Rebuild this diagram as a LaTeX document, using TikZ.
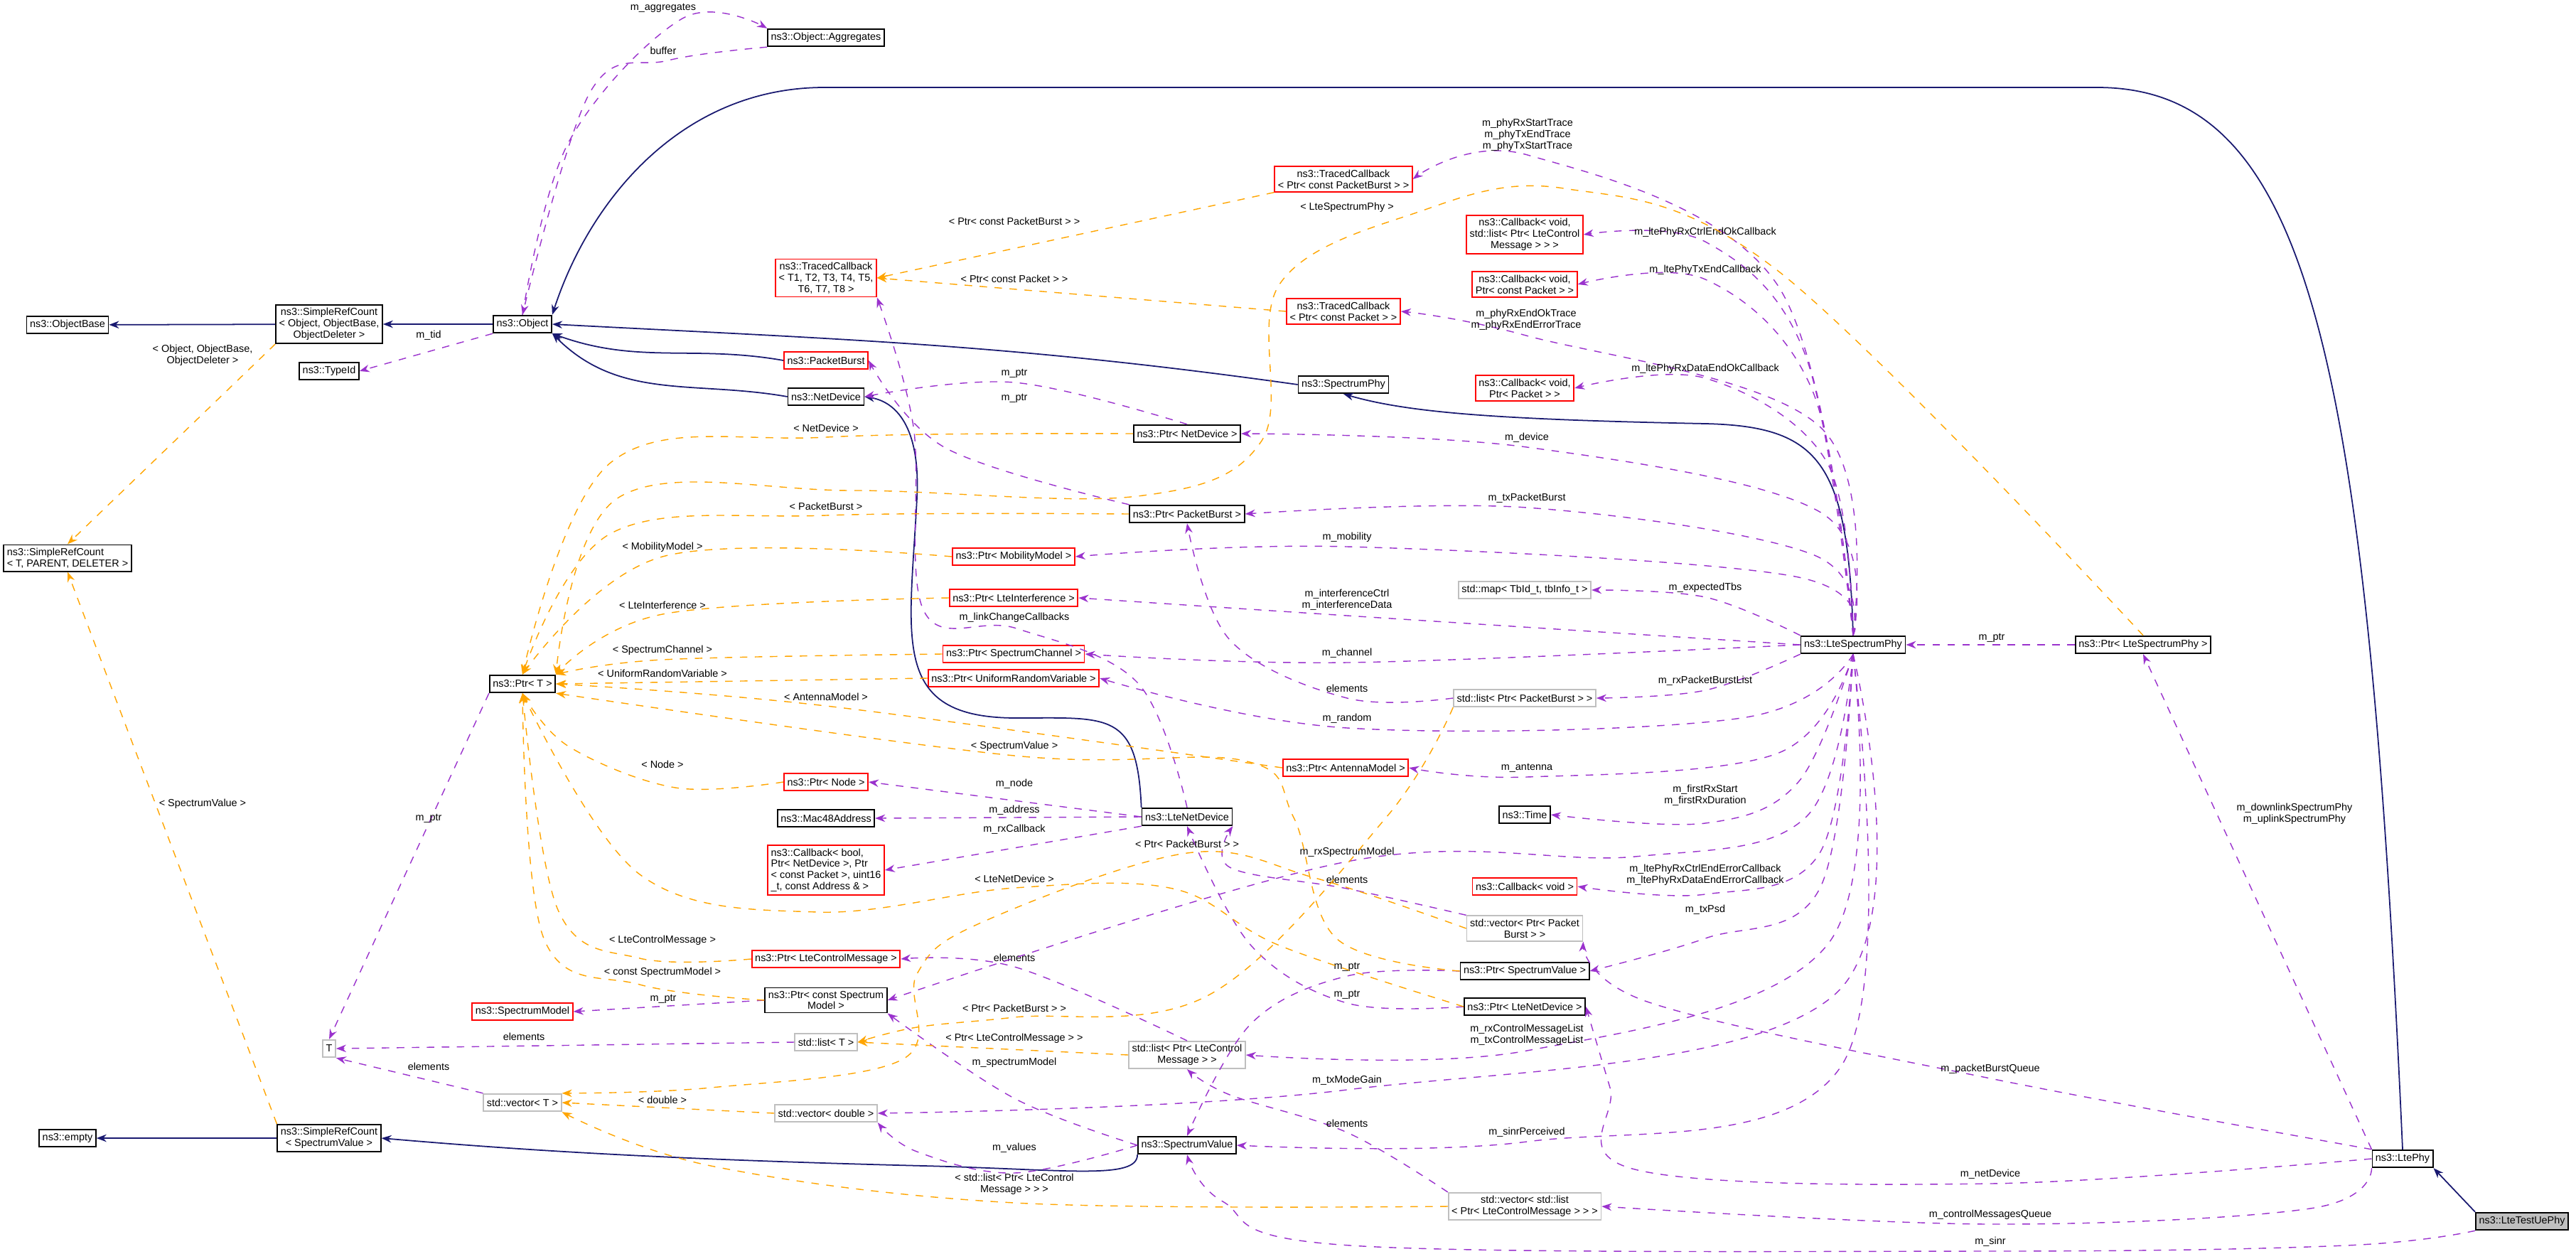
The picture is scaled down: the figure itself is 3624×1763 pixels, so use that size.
\documentclass[tikz,border=0pt]{standalone}
\usepackage{fontspec}
\setmainfont{Liberation Sans}
\usetikzlibrary{arrows.meta}
\definecolor{inhcol}{RGB}{25,25,112}
\definecolor{usecol}{RGB}{154,50,205}
\definecolor{tplcol}{RGB}{255,165,0}
\definecolor{redcol}{RGB}{255,0,0}
\definecolor{graycol}{RGB}{191,191,191}
\begin{document}
\begin{tikzpicture}[x=0.01cm,y=0.01cm]
  \tikzset{cls/.style={rectangle, draw=black, fill=white, line width=0.5pt, align=center, inner sep=1.3pt,
      minimum height=7pt, font=\fontsize{4.1}{4.5}\selectfont}}
  \tikzset{undoc/.style={cls, draw=redcol}}
  \tikzset{tpl/.style={cls, draw=graycol}}
  \tikzset{inherit/.style={draw=inhcol, line width=0.5pt, -{Stealth[length=4pt,width=3pt]}}}
  \tikzset{uses/.style={draw=usecol, dashed, line width=0.4pt, -{Stealth[length=4pt,width=3pt]}}}
  \tikzset{inst/.style={draw=tplcol, dashed, line width=0.4pt, -{Stealth[length=4pt,width=3pt]}}}
  \tikzset{lbl/.style={font=\fontsize{4.1}{4.5}\selectfont, align=center, inner sep=0.5pt, text=black}}
  \tikzset{via/.style={smooth, tension=0.6}}

  \useasboundingbox (0,0) rectangle (3624,-1763);

  \node[cls] (aggr) at (1162,-53) {ns3::Object::Aggregates};
  \node[cls] (objbase) at (95,-457) {ns3::ObjectBase};
  \node[cls] (src1) at (463,-456) {ns3::SimpleRefCount\\< Object, ObjectBase,\\ObjectDeleter >};
  \node[cls] (object) at (735,-456) {ns3::Object};
  \node[cls] (typeid) at (463,-522) {ns3::TypeId};
  \node[cls, align=left] (src2) at (95,-785) {ns3::SimpleRefCount\\< T, PARENT, DELETER >};
  \node[undoc] (tc8) at (1162,-391) {ns3::TracedCallback\\< T1, T2, T3, T4, T5,\\T6, T7, T8 >};
  \node[undoc] (pktburst) at (1162,-507) {ns3::PacketBurst};
  \node[cls] (netdev) at (1162,-558) {ns3::NetDevice};
  \node[cls] (ptrnd) at (1670,-610) {ns3::Ptr< NetDevice >};
  \node[cls] (ptrpb) at (1670,-723) {ns3::Ptr< PacketBurst >};
  \node[undoc] (ptrmob) at (1426,-783) {ns3::Ptr< MobilityModel >};
  \node[undoc] (ptrint) at (1426,-841) {ns3::Ptr< LteInterference >};
  \node[undoc] (ptrchan) at (1426,-920) {ns3::Ptr< SpectrumChannel >};
  \node[undoc] (ptrurv) at (1426,-954) {ns3::Ptr< UniformRandomVariable >};
  \node[cls] (ptrT) at (735,-962) {ns3::Ptr< T >};
  \node[undoc] (ptrnode) at (1162,-1100) {ns3::Ptr< Node >};
  \node[cls] (mac48) at (1162,-1151) {ns3::Mac48Address};
  \node[cls] (ltenetdev) at (1670,-1149) {ns3::LteNetDevice};
  \node[undoc, align=left] (cbbool) at (1162,-1224) {ns3::Callback< bool,\\ Ptr< NetDevice >, Ptr\\< const Packet >, uint16\\\_t, const Address \& >};
  \node[undoc] (ptrltecm) at (1162,-1349) {ns3::Ptr< LteControlMessage >};
  \node[cls] (ptrcsm) at (1162,-1407) {ns3::Ptr< const Spectrum\\Model >};
  \node[undoc] (specmodel) at (735,-1423) {ns3::SpectrumModel};
  \node[tpl] (T) at (463,-1475) {T};
  \node[tpl] (stdlistT) at (1162,-1466) {std::list< T >};
  \node[tpl] (stdlistcm) at (1670,-1484) {std::list< Ptr< LteControl\\Message > >};
  \node[tpl] (stdvecT) at (735,-1551) {std::vector< T >};
  \node[tpl] (stdvecd) at (1162,-1566) {std::vector< double >};
  \node[cls] (empty) at (95,-1601) {ns3::empty};
  \node[cls] (src3) at (463,-1601) {ns3::SimpleRefCount\\< SpectrumValue >};
  \node[cls] (specval) at (1670,-1611) {ns3::SpectrumValue};

  \node[undoc] (tcpb) at (1890,-252) {ns3::TracedCallback\\< Ptr< const PacketBurst > >};
  \node[undoc] (cbctrl) at (2145,-330) {ns3::Callback< void,\\ std::list< Ptr< LteControl\\Message > > >};
  \node[undoc] (cbpkt) at (2145,-400) {ns3::Callback< void,\\ Ptr< const Packet > >};
  \node[undoc] (tcpkt) at (1890,-438) {ns3::TracedCallback\\< Ptr< const Packet > >};
  \node[cls] (specphy) at (1890,-541) {ns3::SpectrumPhy};
  \node[undoc] (cbpktok) at (2145,-546) {ns3::Callback< void,\\ Ptr< Packet > >};
  \node[tpl] (stdmap) at (2145,-830) {std::map< TbId\_t, tbInfo\_t >};
  \node[cls] (lsp) at (2607,-907) {ns3::LteSpectrumPhy};
  \node[cls] (ptrlsp) at (3015,-907) {ns3::Ptr< LteSpectrumPhy >};
  \node[tpl] (stdlistpb) at (2145,-982) {std::list< Ptr< PacketBurst > >};
  \node[undoc] (ptrant) at (1893,-1080) {ns3::Ptr< AntennaModel >};
  \node[cls] (time) at (2145,-1146) {ns3::Time};
  \node[undoc] (cbvoid) at (2145,-1247) {ns3::Callback< void >};
  \node[tpl] (stdvecpb) at (2145,-1306) {std::vector< Ptr< Packet\\Burst > >};
  \node[cls] (ptrsv) at (2145,-1366) {ns3::Ptr< SpectrumValue >};
  \node[cls] (ptrlnd) at (2145,-1416) {ns3::Ptr< LteNetDevice >};
  \node[tpl] (stdvecl) at (2145,-1697) {std::vector< std::list\\< Ptr< LteControlMessage > > >};
  \node[cls] (ltephy) at (3380,-1630) {ns3::LtePhy};
  \node[cls, fill=graycol] (uephy) at (3548,-1718) {ns3::LteTestUePhy};

  % inheritance
  \draw[inherit] (src1) -- (objbase);
  \draw[inherit] (object) -- (src1);
  \draw[inherit] (pktburst.west) to[out=170,in=-20] (object.south east);
  \draw[inherit] (netdev.west) to[out=170,in=-45] (object.south east);
  \draw[inherit] (specphy.west) to[out=172,in=-3] (object.east);
  \draw[inherit] (ltenetdev.north west) .. controls (1600,-1000) and (1560,-1010) .. (1430,-1010)
    .. controls (1250,-1010) and (1280,-900) .. (1290,-700) .. controls (1295,-600) and (1260,-565) .. (netdev.east);
  \draw[inherit] (lsp.north) .. controls (2600,-650) and (2560,-600) .. (2400,-596)
    .. controls (2100,-590) and (1980,-580) .. (specphy.south);
  \draw[inherit] (ltephy.north) .. controls (3330,-500) and (3250,-123) .. (2950,-123) -- (1160,-123)
    .. controls (960,-123) and (830,-280) .. (object.north east);
  \draw[inherit] (src3) -- (empty);
  \draw[inherit] (specval.south west) .. controls (1600,-1660) and (1500,-1645) .. (1300,-1640)
    .. controls (900,-1630) and (700,-1615) .. (src3.east);
  \draw[inherit] (uephy.north west) -- (ltephy.south east);

  % usage
  \draw[uses] plot[via] coordinates {(object.north) (800,-200) (960,-26) (aggr.north west)};
  \node[lbl] (lAggr) at (933,-11) {m\_aggregates};
  \draw[uses] plot[via] coordinates {(aggr.south west) (940,-85) (830,-130) (object.north)};
  \node[lbl] (lBuf) at (933,-71) {buffer};
  \draw[uses] (object.south west) -- (typeid.east);
  \node[lbl] (lTid) at (603,-472) {m\_tid};
  \draw[uses] plot[via] coordinates {(ptrnd.north) (1427,-538) (netdev.east)};
  \node[lbl] (lNdPtr) at (1427,-525) {m\_ptr};
  \draw[uses] plot[via] coordinates {(ptrpb.north west) (1330,-630) (pktburst.east)};
  \node[lbl] (lPbPtr) at (1427,-560) {m\_ptr};
  \draw[uses] plot[via] coordinates {(ltenetdev.north) (1600,-960) (1430,-884) (1300,-860) (1285,-600) (tc8.south east)};
  \node[lbl] (lLink) at (1427,-869) {m\_linkChangeCallbacks};
  \draw[uses] (ltenetdev.west) -- (ptrnode.east);
  \node[lbl] (lNode) at (1427,-1103) {m\_node};
  \draw[uses] (ltenetdev.west) -- (mac48.east);
  \node[lbl] (lAddr) at (1427,-1140) {m\_address};
  \draw[uses] (ltenetdev.south west) -- (cbbool.east);
  \node[lbl] (lRxCb) at (1427,-1167) {m\_rxCallback};
  \draw[uses] (ptrT.south west) -- (T.north);
  \node[lbl] (lTPtr) at (603,-1151) {m\_ptr};
  \draw[uses] (ptrcsm.west) -- (specmodel.east);
  \node[lbl] (lCsmPtr) at (933,-1405) {m\_ptr};
  \draw[uses] (stdlistT.west) -- (T.east);
  \node[lbl] (lElT1) at (737,-1458) {elements};
  \draw[uses] (stdvecT.north west) -- (T.south east);
  \node[lbl] (lElT2) at (603,-1500) {elements};
  \draw[uses] plot[via] coordinates {(stdlistpb.west) (1895,-982) (1730,-900) (ptrpb.south)};
  \node[lbl] (lElPb) at (1895,-968) {elements};
  \draw[uses] plot[via] coordinates {(stdlistcm.north) (1427,-1360) (ptrltecm.east)};
  \node[lbl] (lElCm) at (1427,-1347) {elements};
  \draw[uses] plot[via] coordinates {(stdvecpb.north west) (1895,-1250) (1730,-1220) (ltenetdev.south east)};
  \node[lbl] (lElVp) at (1895,-1237) {elements};
  \draw[uses] plot[via] coordinates {(stdvecl.north west) (1895,-1593) (1730,-1540) (stdlistcm.south)};
  \node[lbl] (lElVl) at (1895,-1580) {elements};
  \draw[uses] plot[via] coordinates {(specval.west) (1427,-1545) (ptrcsm.south east)};
  \node[lbl] (lSpMod) at (1427,-1495) {m\_spectrumModel};
  \draw[uses] plot[via] coordinates {(specval.west) (1427,-1650) (1290,-1620) (stdvecd.south east)};
  \node[lbl] (lVal) at (1427,-1615) {m\_values};
  \draw[uses] plot[via] coordinates {(ptrsv.west) (1895,-1373) (1760,-1440) (specval.north)};
  \node[lbl] (lSvPtr) at (1895,-1360) {m\_ptr};
  \draw[uses] plot[via] coordinates {(ptrlnd.west) (1895,-1411) (1760,-1330) (ltenetdev.south)};
  \node[lbl] (lLndPtr) at (1895,-1399) {m\_ptr};

  % members of LteSpectrumPhy
  \draw[uses] plot[via] coordinates {(lsp.north) (2500,-400) (2149,-218) (tcpb.east)};
  \node[lbl] (lTrace) at (2149,-190) {m\_phyRxStartTrace\\m\_phyTxEndTrace\\m\_phyTxStartTrace};
  \draw[uses] plot[via] coordinates {(lsp.north) (2540,-500) (2399,-340) (cbctrl.east)};
  \node[lbl] (lCtrlOk) at (2399,-327) {m\_ltePhyRxCtrlEndOkCallback};
  \draw[uses] plot[via] coordinates {(lsp.north) (2550,-550) (2399,-393) (cbpkt.east)};
  \node[lbl] (lTxEnd) at (2399,-380) {m\_ltePhyTxEndCallback};
  \draw[uses] plot[via] coordinates {(lsp.north) (2560,-600) (2147,-472) (tcpkt.east)};
  \node[lbl] (lRxEnd) at (2147,-450) {m\_phyRxEndOkTrace\\m\_phyRxEndErrorTrace};
  \draw[uses] plot[via] coordinates {(lsp.north) (2570,-650) (2399,-532) (cbpktok.east)};
  \node[lbl] (lDataOk) at (2399,-519) {m\_ltePhyRxDataEndOkCallback};
  \draw[uses] plot[via] coordinates {(lsp.north) (2560,-720) (2148,-629) (ptrnd.east)};
  \node[lbl] (lDev) at (2148,-616) {m\_device};
  \draw[uses] plot[via] coordinates {(lsp.north) (2550,-780) (2148,-714) (ptrpb.east)};
  \node[lbl] (lTxPb) at (2148,-701) {m\_txPacketBurst};
  \draw[uses] plot[via] coordinates {(lsp.north) (2520,-810) (1895,-769) (ptrmob.east)};
  \node[lbl] (lMob) at (1895,-756) {m\_mobility};
  \draw[uses] plot[via] coordinates {(lsp.north west) (2399,-840) (stdmap.east)};
  \node[lbl] (lTbs) at (2399,-827) {m\_expectedTbs};
  \draw[uses] plot[via] coordinates {(lsp.west) (1895,-866) (ptrint.east)};
  \node[lbl] (lInt) at (1895,-844) {m\_interferenceCtrl\\m\_interferenceData};
  \draw[uses] plot[via] coordinates {(lsp.west) (1895,-932) (ptrchan.east)};
  \node[lbl] (lChan) at (1895,-919) {m\_channel};
  \draw[uses] plot[via] coordinates {(lsp.south west) (2399,-971) (stdlistpb.east)};
  \node[lbl] (lRxPbl) at (2399,-958) {m\_rxPacketBurstList};
  \draw[uses] plot[via] coordinates {(lsp.south) (2450,-1010) (1895,-1024) (ptrurv.east)};
  \node[lbl] (lRand) at (1895,-1011) {m\_random};
  \draw[uses] plot[via] coordinates {(lsp.south) (2500,-1060) (2148,-1093) (ptrant.east)};
  \node[lbl] (lAnt) at (2148,-1080) {m\_antenna};
  \draw[uses] plot[via] coordinates {(lsp.south) (2530,-1100) (2399,-1158) (time.east)};
  \node[lbl] (lFirst) at (2399,-1119) {m\_firstRxStart\\m\_firstRxDuration};
  \draw[uses] plot[via] coordinates {(lsp.south) (2540,-1150) (2300,-1205) (1895,-1212) (ptrcsm.east)};
  \node[lbl] (lRxSm) at (1895,-1199) {m\_rxSpectrumModel};
  \draw[uses] plot[via] coordinates {(lsp.south) (2560,-1200) (2399,-1258) (cbvoid.east)};
  \node[lbl] (lErr) at (2399,-1231) {m\_ltePhyRxCtrlEndErrorCallback\\m\_ltePhyRxDataEndErrorCallback};
  \draw[uses] plot[via] coordinates {(lsp.south) (2560,-1250) (2399,-1320) (ptrsv.east)};
  \node[lbl] (lPsd) at (2399,-1280) {m\_txPsd};
  \draw[uses] plot[via] coordinates {(lsp.south) (2570,-1330) (2148,-1478) (stdlistcm.east)};
  \node[lbl] (lCml) at (2148,-1456) {m\_rxControlMessageList\\m\_txControlMessageList};
  \draw[uses] plot[via] coordinates {(lsp.south) (2580,-1400) (1895,-1533) (stdvecd.east)};
  \node[lbl] (lMode) at (1895,-1520) {m\_txModeGain};
  \draw[uses] plot[via] coordinates {(lsp.south) (2590,-1500) (2148,-1606) (specval.east)};
  \node[lbl] (lSinrP) at (2148,-1593) {m\_sinrPerceived};
  \draw[uses] (ptrlsp.west) -- (lsp.east);
  \node[lbl] (lLspPtr) at (2802,-897) {m\_ptr};
  \draw[uses] (ltephy.north west) -- (ptrlsp.south);
  \node[lbl] (lDlUl) at (3228,-1145) {m\_downlinkSpectrumPhy\\m\_uplinkSpectrumPhy};
  \draw[uses] plot[via] coordinates {(ltephy.north west) (2800,-1517) (2320,-1410) (stdvecpb.south east)};
  \node[lbl] (lPbq) at (2800,-1504) {m\_packetBurstQueue};
  \draw[uses] plot[via] coordinates {(ltephy.west) (2800,-1665) (2300,-1645) (2265,-1530) (ptrlnd.east)};
  \node[lbl] (lNetDev) at (2800,-1652) {m\_netDevice};
  \draw[uses] plot[via] coordinates {(ltephy.south west) (3250,-1700) (2800,-1722) (stdvecl.east)};
  \node[lbl] (lCmq) at (2800,-1709) {m\_controlMessagesQueue};
  \draw[uses] plot[via] coordinates {(uephy.south west) (3300,-1752) (2800,-1760) (1900,-1752) (1720,-1690) (specval.south)};
  \node[lbl] (lSinr) at (2800,-1747) {m\_sinr};

  % template instances
  \draw[inst] (src1.south west) -- (src2.north);
  \node[lbl] (lSrc1) at (285,-500) {< Object, ObjectBase,\\ObjectDeleter >};
  \draw[inst] (src3.north west) -- (src2.south);
  \node[lbl] (lSrc3) at (285,-1131) {< SpectrumValue >};
  \draw[inst] (tcpb.south west) -- (tc8.east);
  \node[lbl] (lTcpb) at (1427,-311) {< Ptr< const PacketBurst > >};
  \draw[inst] (tcpkt.west) -- (tc8.east);
  \node[lbl] (lTcpkt) at (1427,-392) {< Ptr< const Packet > >};
  \draw[inst] plot[via] coordinates {(ptrlsp.north) (2500,-380) (2200,-265) (1990,-300) (1800,-400) (1775,-620) (1600,-698) (1200,-690) (870,-700) (ptrT.north east)};
  \node[lbl] (lLsp) at (1895,-292) {< LteSpectrumPhy >};
  \draw[inst] plot[via] coordinates {(ptrnd.west) (1162,-615) (860,-650) (ptrT.north)};
  \node[lbl] (lNd) at (1162,-602) {< NetDevice >};
  \draw[inst] plot[via] coordinates {(ptrpb.west) (1162,-725) (860,-750) (ptrT.north)};
  \node[lbl] (lPb) at (1162,-712) {< PacketBurst >};
  \draw[inst] plot[via] coordinates {(ptrmob.west) (932,-783) (ptrT.north)};
  \node[lbl] (lMobT) at (932,-770) {< MobilityModel >};
  \draw[inst] plot[via] coordinates {(ptrint.west) (932,-864) (ptrT.north east)};
  \node[lbl] (lIntT) at (932,-851) {< LteInterference >};
  \draw[inst] plot[via] coordinates {(ptrchan.west) (932,-928) (ptrT.north east)};
  \node[lbl] (lChanT) at (932,-915) {< SpectrumChannel >};
  \draw[inst] (ptrurv.west) -- (ptrT.east);
  \node[lbl] (lUrv) at (932,-947) {< UniformRandomVariable >};
  \draw[inst] plot[via] coordinates {(ptrant.west) (1162,-993) (ptrT.east)};
  \node[lbl] (lAntT) at (1162,-980) {< AntennaModel >};
  \draw[inst] plot[via] coordinates {(ptrsv.west) (1880,-1320) (1820,-1150) (1750,-1070) (1427,-1063) (ptrT.south east)};
  \node[lbl] (lSv) at (1427,-1050) {< SpectrumValue >};
  \draw[inst] plot[via] coordinates {(ptrnode.west) (950,-1108) (800,-1050) (ptrT.south)};
  \node[lbl] (lNodeT) at (932,-1075) {< Node >};
  \draw[inst] plot[via] coordinates {(ptrlnd.west) (1800,-1330) (1650,-1250) (1427,-1249) (1150,-1283) (900,-1230) (ptrT.south)};
  \node[lbl] (lLnd) at (1427,-1236) {< LteNetDevice >};
  \draw[inst] plot[via] coordinates {(ptrltecm.west) (900,-1348) (785,-1280) (ptrT.south)};
  \node[lbl] (lCmT) at (932,-1323) {< LteControlMessage >};
  \draw[inst] plot[via] coordinates {(ptrcsm.west) (900,-1385) (765,-1320) (ptrT.south)};
  \node[lbl] (lCsm) at (932,-1368) {< const SpectrumModel >};
  \draw[inst] plot[via] coordinates {(stdlistpb.south west) (1950,-1150) (1700,-1400) (1427,-1431) (1290,-1445) (stdlistT.east)};
  \node[lbl] (lLpb) at (1427,-1418) {< Ptr< PacketBurst > >};
  \draw[inst] (stdlistcm.west) -- (stdlistT.east);
  \node[lbl] (lLcm) at (1427,-1461) {< Ptr< LteControlMessage > >};
  \draw[inst] plot[via] coordinates {(stdvecpb.west) (1850,-1235) (1670,-1200) (1380,-1298) (1290,-1370) (1270,-1490) (1000,-1530) (stdvecT.north east)};
  \node[lbl] (lVpb) at (1670,-1187) {< Ptr< PacketBurst > >};
  \draw[inst] (stdvecd.west) -- (stdvecT.east);
  \node[lbl] (lDbl) at (932,-1547) {< double >};
  \draw[inst] plot[via] coordinates {(stdvecl.west) (1427,-1692) (1000,-1640) (stdvecT.south east)};
  \node[lbl] (lVl) at (1427,-1666) {< std::list< Ptr< LteControl\\Message > > >};
\end{tikzpicture}
\end{document}
